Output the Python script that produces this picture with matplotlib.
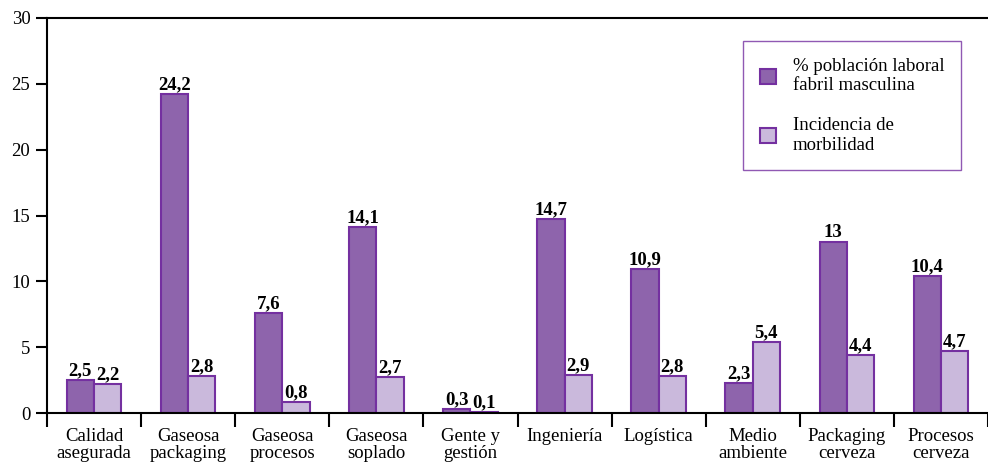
import matplotlib
matplotlib.use('Agg')
from matplotlib import pyplot as plt
from matplotlib.patches import Patch
import numpy as np

# datos
categorias = ['Calidad\nasegurada', 'Gaseosa\npackaging', 'Gaseosa\nprocesos', 'Gaseosa\nsoplado',
              'Gente y\ngestión', 'Ingeniería', 'Logística', 'Medio\nambiente',
              'Packaging\ncerveza', 'Procesos\ncerveza']
poblacion = [2.5, 24.2, 7.6, 14.1, 0.3, 14.7, 10.9, 2.3, 13, 10.4]
morbilidad = [2.2, 2.8, 0.8, 2.7, 0.1, 2.9, 2.8, 5.4, 4.4, 4.7]
nombres = ['% población laboral\nfabril masculina', 'Incidencia de\nmorbilidad']

plt.rcParams['font.family'] = ['Liberation Serif', 'DejaVu Serif']

c_oscuro = '#8E64AC'
c_claro = '#CAB9DC'
c_borde = '#7430A0'

fig = plt.figure(figsize=(9.88, 4.62), dpi=100)
ax = fig.add_axes([47 / 988, 49 / 462, 941 / 988, 395 / 462])

x = np.arange(len(categorias))
w = 0.29
b1 = ax.bar(x - w / 2, poblacion, w, color=c_oscuro, edgecolor=c_borde, linewidth=1.5)
b2 = ax.bar(x + w / 2, morbilidad, w, color=c_claro, edgecolor=c_borde, linewidth=1.5)


def etiqueta(v):
    return ('%g' % v).replace('.', ',')


# etiquetas de valores sobre las barras
for barras, vals in [(b1, poblacion), (b2, morbilidad)]:
    for r, v in zip(barras, vals):
        ax.annotate(etiqueta(v), (r.get_x() + r.get_width() / 2, v), xytext=(0, 3.5),
                    textcoords='offset points', ha='center', va='baseline',
                    fontsize=13.5, fontweight='bold')

ax.set_ylim(0, 30)
ax.set_xlim(-0.5, -0.5 + 941 / 95.3)
ax.set_yticks([0, 5, 10, 15, 20, 25, 30])
ax.tick_params(axis='y', direction='out', length=8, width=1.5, labelsize=13.5, pad=4)

ax.set_xticks(np.arange(-0.5, 10, 1))
ax.set_xticklabels([])
ax.tick_params(axis='x', which='major', direction='out', length=10, width=1.5)
ax.set_xticks(x, minor=True)
ax.set_xticklabels(categorias, minor=True, fontsize=13.5, linespacing=1.0)
ax.tick_params(axis='x', which='minor', length=0, pad=11)

for s in ['left', 'top', 'bottom']:
    ax.spines[s].set_linewidth(1.5)
ax.spines['right'].set_visible(False)

handles = [Patch(facecolor=c_oscuro, edgecolor=c_borde, linewidth=1.5),
           Patch(facecolor=c_claro, edgecolor=c_borde, linewidth=1.5)]
leg = fig.legend(handles, nombres, loc='upper right', bbox_to_anchor=(961 / 988, 1 - 41 / 462),
                 fontsize=13.5, frameon=True, fancybox=False, borderpad=0.9, labelspacing=1.2,
                 handlelength=0.85, handleheight=0.85, handletextpad=0.9, borderaxespad=0)
leg.get_frame().set_edgecolor(c_borde)
leg.get_frame().set_linewidth(1.0)

plt.savefig('out.png', dpi=100)
